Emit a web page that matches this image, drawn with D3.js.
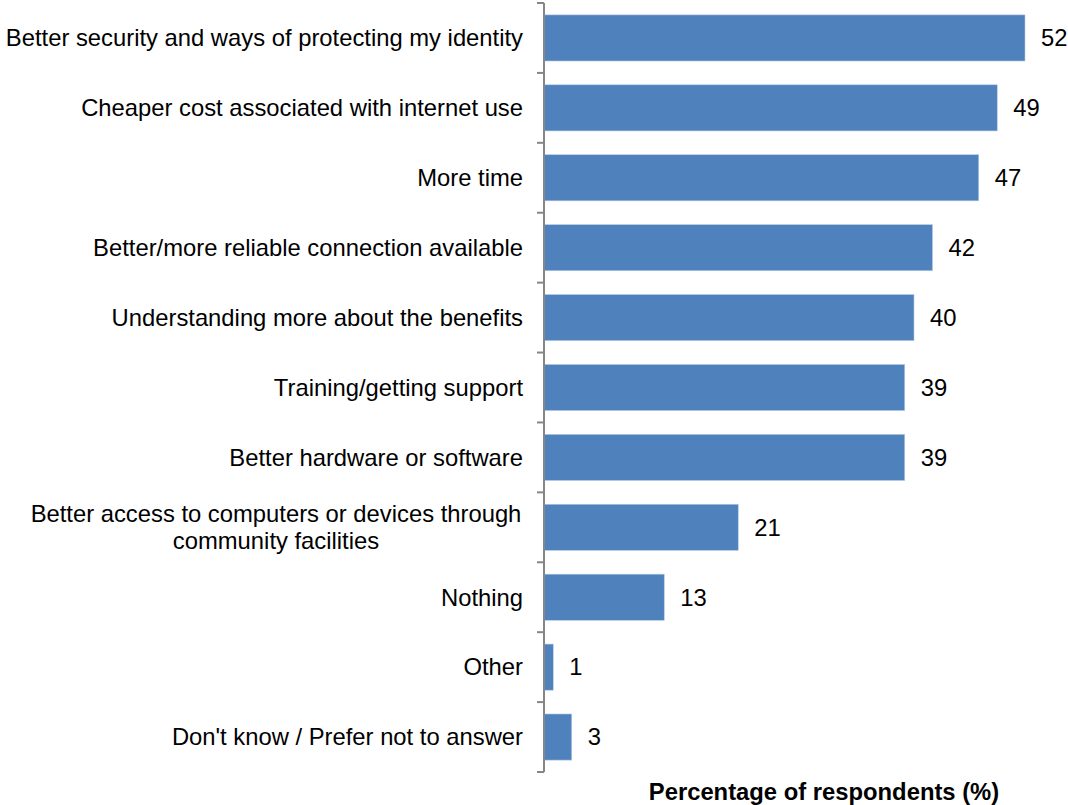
<!DOCTYPE html>
<html>
<head>
<meta charset="utf-8">
<script src="https://cdn.jsdelivr.net/npm/d3@7/dist/d3.min.js"></script>
<style>
  html, body { margin: 0; padding: 0; background: #fff; }
  svg { display: block; font-family: "Liberation Sans", Arial, sans-serif; }
</style>
</head>
<body>
<svg id="chart" width="1068" height="805"></svg>
<script>
// Reasons that would encourage more internet use
const categories = [
  "Better security and ways of protecting my identity",
  "Cheaper cost associated with internet use",
  "More time",
  "Better/more reliable connection available",
  "Understanding more about the benefits",
  "Training/getting support",
  "Better hardware or software",
  "Better access to computers or devices through|community facilities",
  "Nothing",
  "Other",
  "Don't know / Prefer not to answer"
];
const values = [52, 49, 47, 42, 40, 39, 39, 21, 13, 1, 3];
const axisTitle = "Percentage of respondents (%)";

const svg = d3.select("#chart");
const x0 = 544, plotTop = 3, plotBottom = 772;
const fontSize = 23.8;

const x = d3.scaleLinear().domain([0, 52]).range([x0, 1025]);
const y = d3.scaleBand().domain(d3.range(categories.length))
  .range([plotTop, plotBottom]).paddingInner(0.34).paddingOuter(0.17);

// bars
svg.append("g").selectAll("rect")
  .data(values)
  .join("rect")
  .attr("x", x(0))
  .attr("y", (d, i) => y(i))
  .attr("width", d => x(d) - x(0))
  .attr("height", y.bandwidth())
  .attr("fill", "#4F81BD")
  .attr("stroke", "#B9CDE5")
  .attr("stroke-width", 0.6);

// category axis with ticks at band boundaries
const step = (plotBottom - plotTop) / categories.length;
const axisG = svg.append("g").attr("stroke", "#868686").attr("stroke-width", 2);
axisG.append("line").attr("x1", x0).attr("x2", x0).attr("y1", plotTop).attr("y2", plotBottom);
axisG.selectAll("line.tick")
  .data(d3.range(categories.length + 1))
  .join("line")
  .attr("class", "tick")
  .attr("x1", x0 - 7).attr("x2", x0)
  .attr("y1", i => plotTop + i * step).attr("y2", i => plotTop + i * step);

// category labels
const labelG = svg.append("g")
  .attr("font-size", fontSize).attr("fill", "#000");
categories.forEach((c, i) => {
  const lines = c.split("|");
  const cy = y(i) + y.bandwidth() / 2;
  const lh = 27;
  const t = labelG.append("text")
    .attr("text-anchor", lines.length > 1 ? "middle" : "end")
    .attr("y", cy - (lines.length - 1) * lh / 2);
  lines.forEach((ln, k) => {
    t.append("tspan")
      .attr("x", lines.length > 1 ? 276 : x0 - 21)
      .attr("dy", k === 0 ? "0.35em" : lh)
      .text(ln);
  });
});

// value labels
svg.append("g").attr("font-size", fontSize).selectAll("text")
  .data(values)
  .join("text")
  .attr("x", d => x(d) + 16)
  .attr("y", (d, i) => y(i) + y.bandwidth() / 2)
  .attr("dy", "0.35em")
  .text(d => d);

// axis title
svg.append("text")
  .attr("x", 824).attr("y", 800)
  .attr("text-anchor", "middle")
  .attr("font-size", fontSize).attr("font-weight", "bold")
  .text(axisTitle);
</script>
</body>
</html>
